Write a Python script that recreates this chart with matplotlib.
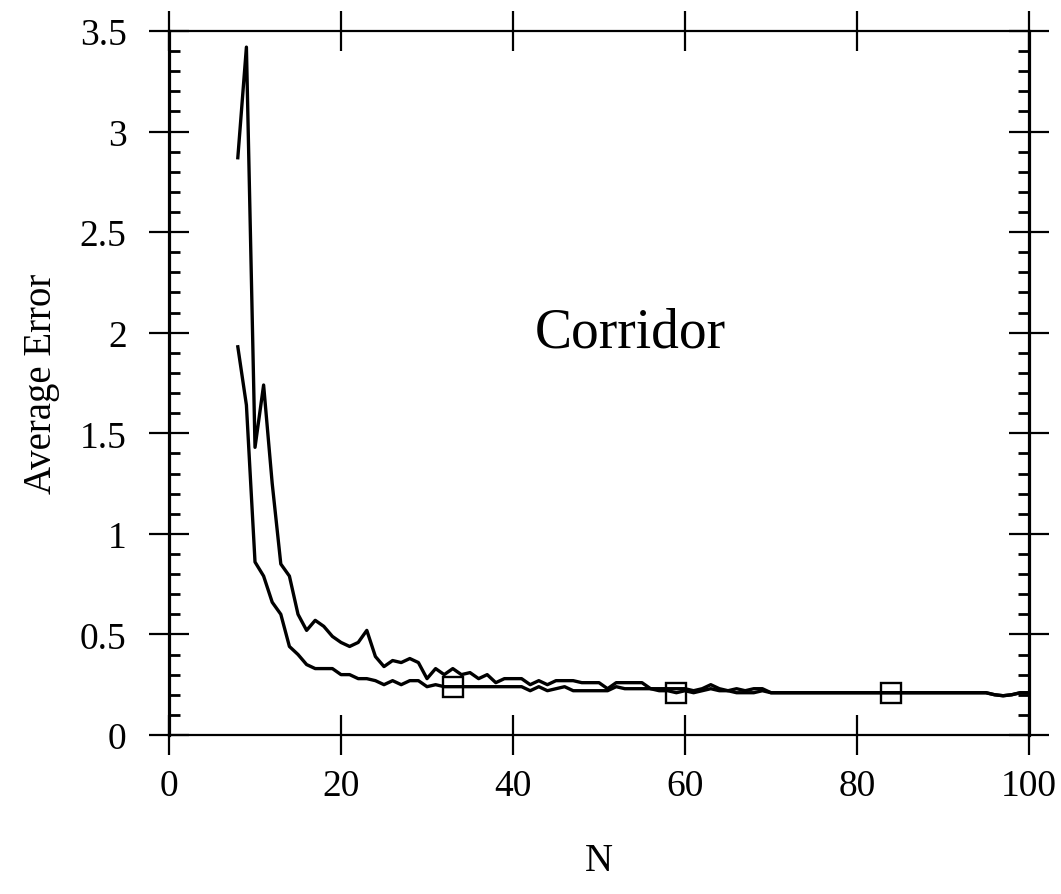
#!/usr/bin/env python3

"""
Average error vs N for the corridor data set.
"""

import matplotlib
matplotlib.use("Agg")
import matplotlib.pyplot as plt
from matplotlib.ticker import MultipleLocator

N = list(range(8, 101))

# upper curve
err_upper = [
    2.87, 3.42, 1.43, 1.74, 1.25, 0.85, 0.79, 0.60, 0.52, 0.57,   # 8-17
    0.54, 0.49, 0.46, 0.44, 0.46, 0.52, 0.39, 0.34, 0.37, 0.36,   # 18-27
    0.38, 0.36, 0.28, 0.33, 0.30, 0.33, 0.30, 0.31, 0.28, 0.30,   # 28-37
    0.26, 0.28, 0.28, 0.28, 0.25, 0.27, 0.25, 0.27, 0.27, 0.27,   # 38-47
    0.26, 0.26, 0.26, 0.23, 0.26, 0.26, 0.26, 0.26, 0.23, 0.23,   # 48-57
    0.23, 0.23, 0.23, 0.22, 0.23, 0.25, 0.23, 0.22, 0.23, 0.22,   # 58-67
    0.23, 0.23, 0.21, 0.21, 0.21, 0.21, 0.21, 0.21, 0.21, 0.21,   # 68-77
    0.21, 0.21, 0.21, 0.21, 0.21, 0.21, 0.21, 0.21, 0.21, 0.21,   # 78-87
    0.21, 0.21, 0.21, 0.21, 0.21, 0.21, 0.21, 0.21, 0.20, 0.195,  # 88-97
    0.20, 0.21, 0.21,                                             # 98-100
]

# lower curve
err_lower = [
    1.93, 1.64, 0.86, 0.79, 0.66, 0.60, 0.44, 0.40, 0.35, 0.33,   # 8-17
    0.33, 0.33, 0.30, 0.30, 0.28, 0.28, 0.27, 0.25, 0.27, 0.25,   # 18-27
    0.27, 0.27, 0.24, 0.25, 0.24, 0.24, 0.24, 0.24, 0.24, 0.24,   # 28-37
    0.24, 0.24, 0.24, 0.24, 0.22, 0.24, 0.22, 0.23, 0.24, 0.22,   # 38-47
    0.22, 0.22, 0.22, 0.22, 0.24, 0.23, 0.23, 0.23, 0.23, 0.22,   # 48-57
    0.22, 0.21, 0.22, 0.21, 0.22, 0.23, 0.22, 0.22, 0.21, 0.21,   # 58-67
    0.21, 0.22, 0.21, 0.21, 0.21, 0.21, 0.21, 0.21, 0.21, 0.21,   # 68-77
    0.21, 0.21, 0.21, 0.21, 0.21, 0.21, 0.21, 0.21, 0.21, 0.21,   # 78-87
    0.21, 0.21, 0.21, 0.21, 0.21, 0.21, 0.21, 0.21, 0.20, 0.195,  # 88-97
    0.20, 0.21, 0.21,                                             # 98-100
]

# N values that carry a square marker on the lower curve
marker_N = [33, 59, 84]

plt.rcParams["font.family"] = ["Liberation Serif", "DejaVu Serif"]

fig = plt.figure(figsize=(10.61, 8.95), dpi=100)
ax = fig.add_axes([0.1593, 0.1777, 0.8105, 0.7865])

ax.plot(N, err_upper, color="black", linewidth=2.4)
ax.plot(N, err_lower, color="black", linewidth=2.4,
        marker="s", markersize=15, fillstyle="none", markeredgewidth=1.7,
        markevery=[N.index(n) for n in marker_N])

ax.text(53.6, 2.0, "Corridor", fontsize=40, ha="center", va="center")

ax.set_xlim(0, 100)
ax.set_ylim(0, 3.5)
ax.xaxis.set_major_locator(MultipleLocator(20))
ax.yaxis.set_minor_locator(MultipleLocator(0.1))
ax.set_yticks([0, 0.5, 1, 1.5, 2, 2.5, 3, 3.5],
              ["0", "0.5", "1", "1.5", "2", "2.5", "3", "3.5"])

ax.tick_params(which="major", direction="inout", length=29, width=1.6,
               labelsize=27, top=True, right=True)
ax.tick_params(axis="x", which="major", pad=10)
ax.tick_params(axis="y", which="major", pad=16)
ax.tick_params(which="minor", direction="in", length=8, width=2.0,
               left=True, right=True)

for side in ["left", "right"]:
    ax.spines[side].set_linewidth(2.3)
for side in ["top", "bottom"]:
    ax.spines[side].set_linewidth(1.6)

ax.set_xlabel("N", fontsize=28, labelpad=28)
ax.set_ylabel("Average Error", fontsize=28, labelpad=14)

plt.savefig("out.png", dpi=100)
